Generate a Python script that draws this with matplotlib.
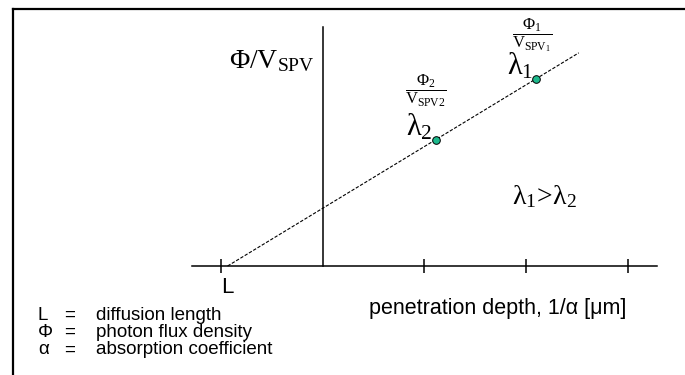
import matplotlib
matplotlib.use('Agg')
import matplotlib.pyplot as plt
from matplotlib.lines import Line2D

# tick positions along penetration depth (y axis sits at 0), first tick is L
tick_x = [-1, 1, 2, 3]
tick_labels = ['L', '', '', '']
x_axis_range = [-1.29, 3.29]
y_axis_range = [0.0, 2.35]

# dashed extrapolation line down to the intercept at -L
fit_x = [-0.94, 2.52]
fit_y = [0.0, 2.10]

# measured points for lambda1 and lambda2
point_x = [2.10, 1.11]
point_y = [1.84, 1.24]
point_idx = ['1', '2']

legend_syms = ['L', 'Φ', 'α']
legend_text = ['diffusion length', 'photon flux density', 'absorption coefficient']

plt.rcParams['mathtext.fontset'] = 'custom'
plt.rcParams['mathtext.rm'] = 'Liberation Serif'
plt.rcParams['mathtext.it'] = 'Liberation Serif'
plt.rcParams['mathtext.bf'] = 'Liberation Serif:bold'
plt.rcParams['font.family'] = ['Liberation Sans', 'DejaVu Sans']

fig = plt.figure(figsize=(6.85, 3.75), dpi=100)
ax = fig.add_axes([0, 0, 1, 1])
# 101.5 px per unit, origin at pixel (323, 266)
ax.set_xlim(-323 / 101.5, (685 - 323) / 101.5)
ax.set_ylim((266 - 375) / 101.5, 266 / 101.5)
ax.axis('off')

# outer frame (only top and left edges visible)
fig.add_artist(Line2D([13 / 685, 1], [1 - 9 / 375] * 2, color='black', lw=1.6,
                      transform=fig.transFigure))
fig.add_artist(Line2D([13 / 685] * 2, [0, 1 - 9 / 375], color='black', lw=1.6,
                      transform=fig.transFigure))

# axes
ax.plot(x_axis_range, [0, 0], color='black', lw=1.1)
ax.plot([0, 0], y_axis_range, color='black', lw=1.1)
ax.vlines(tick_x, -0.07, 0.07, color='black', lw=1.1)
for tx, lab in zip(tick_x, tick_labels):
    if lab:
        ax.text(tx + 0.06, -0.11, lab, fontsize=16, ha='center', va='top')

# extrapolation + points
ax.plot(fit_x, fit_y, color='black', lw=0.8, dashes=(3, 1.5))
ax.plot(point_x, point_y, 'o', ms=5.5, mfc='#1db98c', mec='black', mew=0.7)

frac_off = {'1': (-4, 44), '2': (-10, 49)}
for px, py, i in zip(point_x, point_y, point_idx):
    ax.annotate(r'$\lambda_%s$' % i, (px, py), xytext=(-3, 5),
                textcoords='offset pixels', ha='right', va='baseline', fontsize=22)
    den = r'V_{SPV_{1}}' if i == '1' else r'V_{SPV2}'
    ax.annotate(r'$\dfrac{\Phi_%s}{%s}$' % (i, den), (px, py), xytext=frac_off[i],
                textcoords='offset pixels', ha='center', va='center', fontsize=12)

ax.text(-0.926, 1.95, r'$\Phi/V_{SPV}$', fontsize=20, ha='left', va='baseline')
ax.text(1.86, 0.68, r'$\lambda_1\!>\!\lambda_2$', fontsize=20, ha='left', va='center')

ax.text(0.453, -0.414, 'penetration depth, 1/α [μm]', fontsize=15.5,
        ha='left', va='center')

for k, (s, t) in enumerate(zip(legend_syms, legend_text)):
    y = -0.483 - 0.172 * k
    ax.text((38 - 323) / 101.5, y, s, fontsize=13.5, ha='left', va='center')
    ax.text((64 - 323) / 101.5, y, '=', fontsize=13.5, ha='left', va='center')
    ax.text((96 - 323) / 101.5, y, t, fontsize=13.5, ha='left', va='center')

fig.savefig('out.png', dpi=100)
